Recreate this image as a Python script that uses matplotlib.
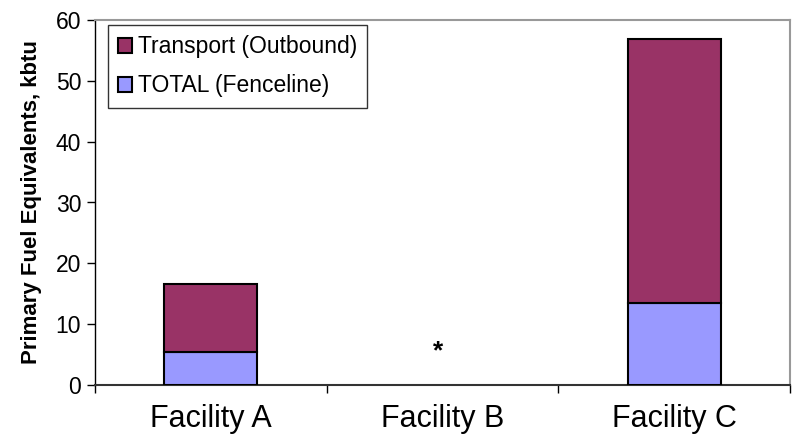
import matplotlib
matplotlib.use("Agg")
import matplotlib.pyplot as plt
from matplotlib.patches import Patch

plt.rcParams['font.family'] = ['Liberation Sans', 'DejaVu Sans']

categories = ["Facility A", "Facility B", "Facility C"]
fenceline = [5.4, 0.0, 13.5]
transport = [11.2, 0.0, 43.3]
yticks = [0, 10, 20, 30, 40, 50, 60]

col_transport = "#993366"
col_fence = "#9999FF"

fig = plt.figure(figsize=(7.94, 4.40), dpi=100)
ax = fig.add_axes([95/794, 1-385/440, 695/794, 365/440])

x = list(range(len(categories)))
bw = 0.40
draw_idx = [i for i in x if fenceline[i] + transport[i] > 0]
ax.bar([x[i] for i in draw_idx], [fenceline[i] for i in draw_idx], width=bw,
       color=col_fence, edgecolor="black", linewidth=1.5, zorder=3)
ax.bar([x[i] for i in draw_idx], [transport[i] for i in draw_idx], width=bw,
       bottom=[fenceline[i] for i in draw_idx],
       color=col_transport, edgecolor="black", linewidth=1.5, zorder=3)

ax.text(0.98, 5.6, "*", ha="center", va="center", fontsize=19, fontweight="bold")

ax.set_xlim(-0.5, 2.5)
ax.set_ylim(0, 60)
ax.set_yticks(yticks)
ax.set_yticklabels([str(v) for v in yticks], fontsize=16.5)
ax.tick_params(axis="y", direction="out", length=6, width=1, pad=4)

ax.set_xticks(x)
ax.set_xticklabels(categories, fontsize=22)
ax.tick_params(axis="x", which="major", length=0, pad=14)
ax.set_xticks([-0.5, 0.5, 1.5, 2.5], minor=True)
ax.tick_params(axis="x", which="minor", direction="out", length=6, width=1)

for s in ["top", "right"]:
    ax.spines[s].set_color("#999999")
    ax.spines[s].set_linewidth(1.5)
ax.spines["left"].set_color("black")
ax.spines["left"].set_linewidth(1)
ax.spines["bottom"].set_color("#333333")
ax.spines["bottom"].set_linewidth(1.5)

ax.set_ylabel("Primary Fuel Equivalents, kbtu", fontsize=16, fontweight="bold", labelpad=10)

handles = [Patch(facecolor=col_transport, edgecolor="black", linewidth=1.5),
           Patch(facecolor=col_fence, edgecolor="black", linewidth=1.5)]
leg = ax.legend(handles, ["Transport (Outbound)", "TOTAL (Fenceline)"],
                loc="upper left", bbox_to_anchor=((108-95)/695, 1-(25-20)/365),
                fontsize=16.5, frameon=True, fancybox=False, edgecolor="black",
                handlelength=0.6, handleheight=0.6, handletextpad=0.25,
                borderpad=0.45, labelspacing=0.7, borderaxespad=0)
leg.get_frame().set_linewidth(1)

fig.savefig("out.png", dpi=100)
